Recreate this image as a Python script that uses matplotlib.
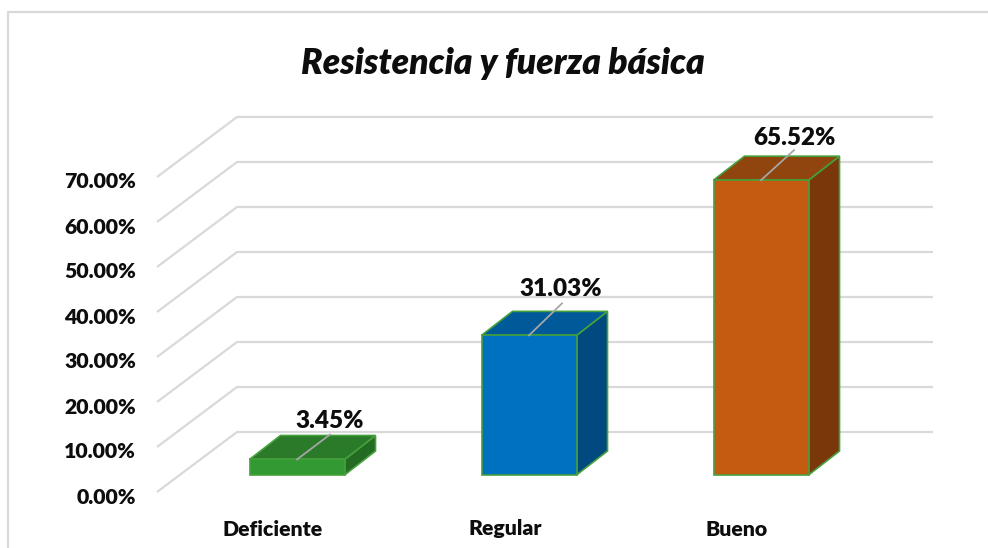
import matplotlib
matplotlib.use('Agg')
import matplotlib.pyplot as plt
from matplotlib.patches import Polygon

categorias = ['Deficiente', 'Regular', 'Bueno']
valores = [3.45, 31.03, 65.52]
ticks = [0, 10, 20, 30, 40, 50, 60, 70]
tick_labels = ['0.00%', '10.00%', '20.00%', '30.00%', '40.00%', '50.00%', '60.00%', '70.00%']
etiquetas = ['3.45%', '31.03%', '65.52%']
col_frente = ['#339933', '#0070C0', '#C55A11']
col_arriba = ['#2A7A2A', '#005A9A', '#8F450D']
col_lado = ['#236A23', '#004A80', '#7A380A']

plt.rcParams['font.family'] = ['Lato', 'DejaVu Sans']

W, H = 988, 548
fig = plt.figure(figsize=(W / 100, H / 100), dpi=100)
ax = fig.add_axes([0, 0, 1, 1])
# 232 px por categoria, 4.5 px por 1 %; categoria 0 centrada en x=297, 0 % en y=492
ax.set_xlim(-297 / 232, (W - 297) / 232)
ax.set_ylim(-(H - 492) / 4.5, 492 / 4.5)
ax.axis('off')

px = 1 / 232
py = 1 / 4.5
ancho = 95 * px
base = 17 * py      # el suelo de la barra esta por encima del 0 frontal
dx, dy = 31 * px, 24 * py
gx0, gx1, gx2 = -140 * px, -60 * px, 636 * px
gdy = 60 * py
peso = 800

# subida de la linea guia y de la etiqueta, en px, para cada barra
guia = [25, 32, 30]
texto = [38, 46, 42]

for t in ticks:
    ax.plot([gx0, gx1, gx2], [t, t + gdy, t + gdy], color='#D9D9D9', lw=1.6, solid_capstyle='butt', zorder=1)

for i, v in enumerate(valores):
    x0, x1 = i - ancho / 2, i + ancho / 2
    y0, y1 = base, base + v
    borde = '#45A03C'
    ax.add_patch(Polygon([(x1, y0), (x1 + dx, y0 + dy), (x1 + dx, y1 + dy), (x1, y1)], fc=col_lado[i], ec=borde, lw=1.2, zorder=3))
    ax.add_patch(Polygon([(x0, y1), (x1, y1), (x1 + dx, y1 + dy), (x0 + dx, y1 + dy)], fc=col_arriba[i], ec=borde, lw=1.2, zorder=3))
    ax.add_patch(Polygon([(x0, y0), (x1, y0), (x1, y1), (x0, y1)], fc=col_frente[i], ec=borde, lw=1.2, zorder=4))
    # linea guia de la etiqueta
    ax.plot([i, i + 33 * px], [y1, y1 + guia[i] * py], color='#A6A6A6', lw=1.3, zorder=5)
    ax.text(i + (33 if i != 1 else 31.5) * px, y1 + texto[i] * py, etiquetas[i], ha='center', va='center', fontsize=17.5, fontweight=peso, color='#0D0D0D', zorder=6)

for t, lab in zip(ticks, tick_labels):
    ax.text(-161 * px, t - 5 * py, lab, ha='right', va='center', fontsize=15.3, fontweight=peso, color='#0D0D0D')

for i, c in enumerate(categorias):
    ax.text(i - 24 * px, -37 * py, c, ha='center', va='center', fontsize=15.3, fontweight=peso, color='#0D0D0D')

ax.text(206 * px, 429 * py, 'Resistencia y fuerza básica', ha='center', va='center', fontsize=25.5, fontweight=peso, fontstyle='italic', color='#0D0D0D')

# borde del grafico: sin lado derecho
marco_x = [-289 * px, -289 * px, 691 * px]
marco_y = [-56 * py, 480 * py, 480 * py]
ax.plot(marco_x, marco_y, color='#D9D9D9', lw=1.6, zorder=0)

plt.savefig('out.png', dpi=100)
